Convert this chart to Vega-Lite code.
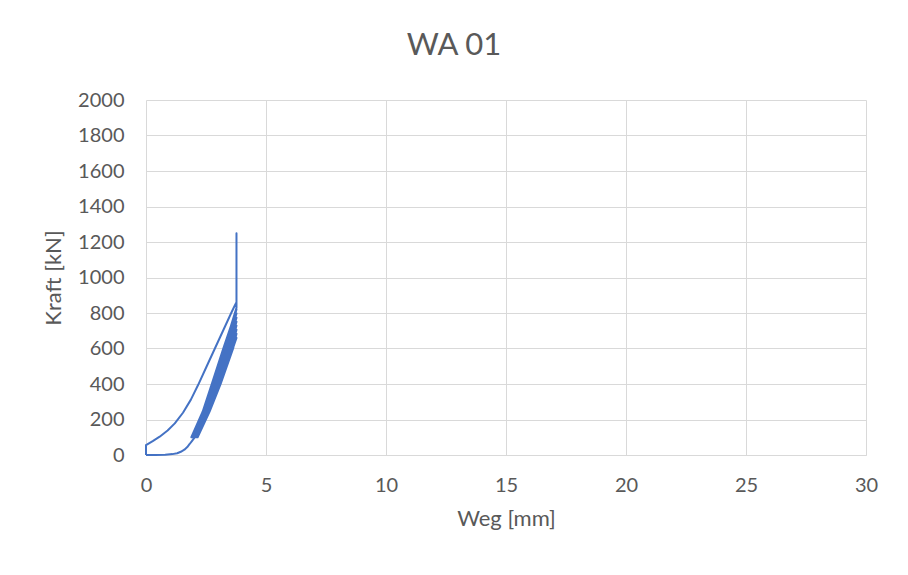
{
  "$schema": "https://vega.github.io/schema/vega-lite/v6.json",
  "width": 720,
  "height": 355,
  "autosize": {"type": "none"},
  "padding": {"left": 146, "top": 100, "right": 42, "bottom": 120},
  "background": "white",
  "title": {
    "text": "WA 01",
    "frame": "group",
    "anchor": "middle",
    "dx": -52,
    "baseline": "alphabetic",
    "offset": 4,
    "font": "Lato",
    "fontSize": 31,
    "fontWeight": "normal",
    "color": "#595959"
  },
  "data": {
    "values": [
      {"i": 0, "weg": 0, "kraft": 0},
      {"i": 1, "weg": 0.4, "kraft": 0.5},
      {"i": 2, "weg": 0.8, "kraft": 2},
      {"i": 3, "weg": 1.1, "kraft": 5},
      {"i": 4, "weg": 1.3, "kraft": 10},
      {"i": 5, "weg": 1.45, "kraft": 18},
      {"i": 6, "weg": 1.6, "kraft": 30},
      {"i": 7, "weg": 1.72, "kraft": 45},
      {"i": 8, "weg": 1.82, "kraft": 62},
      {"i": 9, "weg": 1.92, "kraft": 80},
      {"i": 10, "weg": 2.02, "kraft": 98},
      {"i": 11, "weg": 2.1, "kraft": 115},
      {"i": 12, "weg": 2.2, "kraft": 140},
      {"i": 13, "weg": 2.65, "kraft": 250},
      {"i": 14, "weg": 3.1, "kraft": 400},
      {"i": 15, "weg": 3.62, "kraft": 600},
      {"i": 16, "weg": 3.77, "kraft": 660},
      {"i": 17, "weg": 3.6, "kraft": 600},
      {"i": 18, "weg": 3.08, "kraft": 400},
      {"i": 19, "weg": 2.62, "kraft": 244},
      {"i": 20, "weg": 2.15, "kraft": 100},
      {"i": 21, "weg": 2.65, "kraft": 244},
      {"i": 22, "weg": 3.11, "kraft": 400},
      {"i": 23, "weg": 3.63, "kraft": 600},
      {"i": 24, "weg": 3.77, "kraft": 683},
      {"i": 25, "weg": 3.55, "kraft": 600},
      {"i": 26, "weg": 3.03, "kraft": 400},
      {"i": 27, "weg": 2.58, "kraft": 244},
      {"i": 28, "weg": 2.11, "kraft": 100},
      {"i": 29, "weg": 2.61, "kraft": 244},
      {"i": 30, "weg": 3.06, "kraft": 400},
      {"i": 31, "weg": 3.58, "kraft": 600},
      {"i": 32, "weg": 3.77, "kraft": 706},
      {"i": 33, "weg": 3.49, "kraft": 600},
      {"i": 34, "weg": 2.98, "kraft": 400},
      {"i": 35, "weg": 2.55, "kraft": 244},
      {"i": 36, "weg": 2.08, "kraft": 100},
      {"i": 37, "weg": 2.58, "kraft": 244},
      {"i": 38, "weg": 3.01, "kraft": 400},
      {"i": 39, "weg": 3.52, "kraft": 600},
      {"i": 40, "weg": 3.77, "kraft": 729},
      {"i": 41, "weg": 3.44, "kraft": 600},
      {"i": 42, "weg": 2.93, "kraft": 400},
      {"i": 43, "weg": 2.51, "kraft": 244},
      {"i": 44, "weg": 2.04, "kraft": 100},
      {"i": 45, "weg": 2.54, "kraft": 244},
      {"i": 46, "weg": 2.96, "kraft": 400},
      {"i": 47, "weg": 3.47, "kraft": 600},
      {"i": 48, "weg": 3.77, "kraft": 751},
      {"i": 49, "weg": 3.38, "kraft": 600},
      {"i": 50, "weg": 2.89, "kraft": 400},
      {"i": 51, "weg": 2.47, "kraft": 244},
      {"i": 52, "weg": 2.0, "kraft": 100},
      {"i": 53, "weg": 2.5, "kraft": 244},
      {"i": 54, "weg": 2.92, "kraft": 400},
      {"i": 55, "weg": 3.41, "kraft": 600},
      {"i": 56, "weg": 3.77, "kraft": 774},
      {"i": 57, "weg": 3.33, "kraft": 600},
      {"i": 58, "weg": 2.84, "kraft": 400},
      {"i": 59, "weg": 2.43, "kraft": 244},
      {"i": 60, "weg": 1.96, "kraft": 100},
      {"i": 61, "weg": 2.46, "kraft": 244},
      {"i": 62, "weg": 2.87, "kraft": 400},
      {"i": 63, "weg": 3.36, "kraft": 600},
      {"i": 64, "weg": 3.77, "kraft": 797},
      {"i": 65, "weg": 3.27, "kraft": 600},
      {"i": 66, "weg": 2.79, "kraft": 400},
      {"i": 67, "weg": 2.4, "kraft": 244},
      {"i": 68, "weg": 1.93, "kraft": 100},
      {"i": 69, "weg": 2.43, "kraft": 244},
      {"i": 70, "weg": 2.82, "kraft": 400},
      {"i": 71, "weg": 3.3, "kraft": 600},
      {"i": 72, "weg": 3.77, "kraft": 820},
      {"i": 73, "weg": 3.22, "kraft": 600},
      {"i": 74, "weg": 2.74, "kraft": 400},
      {"i": 75, "weg": 2.36, "kraft": 244},
      {"i": 76, "weg": 1.89, "kraft": 100},
      {"i": 77, "weg": 2.39, "kraft": 244},
      {"i": 78, "weg": 2.77, "kraft": 400},
      {"i": 79, "weg": 3.25, "kraft": 600},
      {"i": 80, "weg": 3.77, "kraft": 830},
      {"i": 81, "weg": 3.77, "kraft": 1250},
      {"i": 82, "weg": 3.77, "kraft": 860},
      {"i": 83, "weg": 3.71, "kraft": 845},
      {"i": 84, "weg": 3.55, "kraft": 800},
      {"i": 85, "weg": 3.21, "kraft": 700},
      {"i": 86, "weg": 2.87, "kraft": 600},
      {"i": 87, "weg": 2.52, "kraft": 497},
      {"i": 88, "weg": 2.17, "kraft": 394},
      {"i": 89, "weg": 1.87, "kraft": 312},
      {"i": 90, "weg": 1.54, "kraft": 238},
      {"i": 91, "weg": 1.2, "kraft": 178},
      {"i": 92, "weg": 0.9, "kraft": 138},
      {"i": 93, "weg": 0.57, "kraft": 103},
      {"i": 94, "weg": 0.28, "kraft": 78},
      {"i": 95, "weg": 0, "kraft": 56},
      {"i": 96, "weg": 0, "kraft": 0}
    ]
  },
  "mark": {"type": "line", "color": "#4472C4", "strokeWidth": 2, "strokeJoin": "round"},
  "encoding": {
    "x": {
      "field": "weg",
      "type": "quantitative",
      "title": "Weg [mm]",
      "scale": {"domain": [0, 30], "nice": false, "zero": false},
      "axis": {"values": [0, 5, 10, 15, 20, 25, 30], "format": "d", "labelPadding": 20, "titlePadding": 13}
    },
    "y": {
      "field": "kraft",
      "type": "quantitative",
      "title": "Kraft [kN]",
      "scale": {"domain": [0, 2000], "nice": false},
      "axis": {"values": [0, 200, 400, 600, 800, 1000, 1200, 1400, 1600, 1800, 2000], "format": "d", "labelPadding": 22, "titlePadding": 12, "domain": false}
    },
    "order": {"field": "i", "type": "quantitative"}
  },
  "config": {
    "view": {"stroke": null},
    "axis": {
      "grid": true,
      "gridColor": "#d9d9d9",
      "gridWidth": 1,
      "domainColor": "#d9d9d9",
      "domainWidth": 1,
      "ticks": false,
      "labelFlush": false,
      "labelFont": "Lato",
      "labelFontSize": 20,
      "labelColor": "#595959",
      "titleFont": "Lato",
      "titleFontSize": 22,
      "titleFontWeight": "normal",
      "titleColor": "#595959"
    }
  }
}
